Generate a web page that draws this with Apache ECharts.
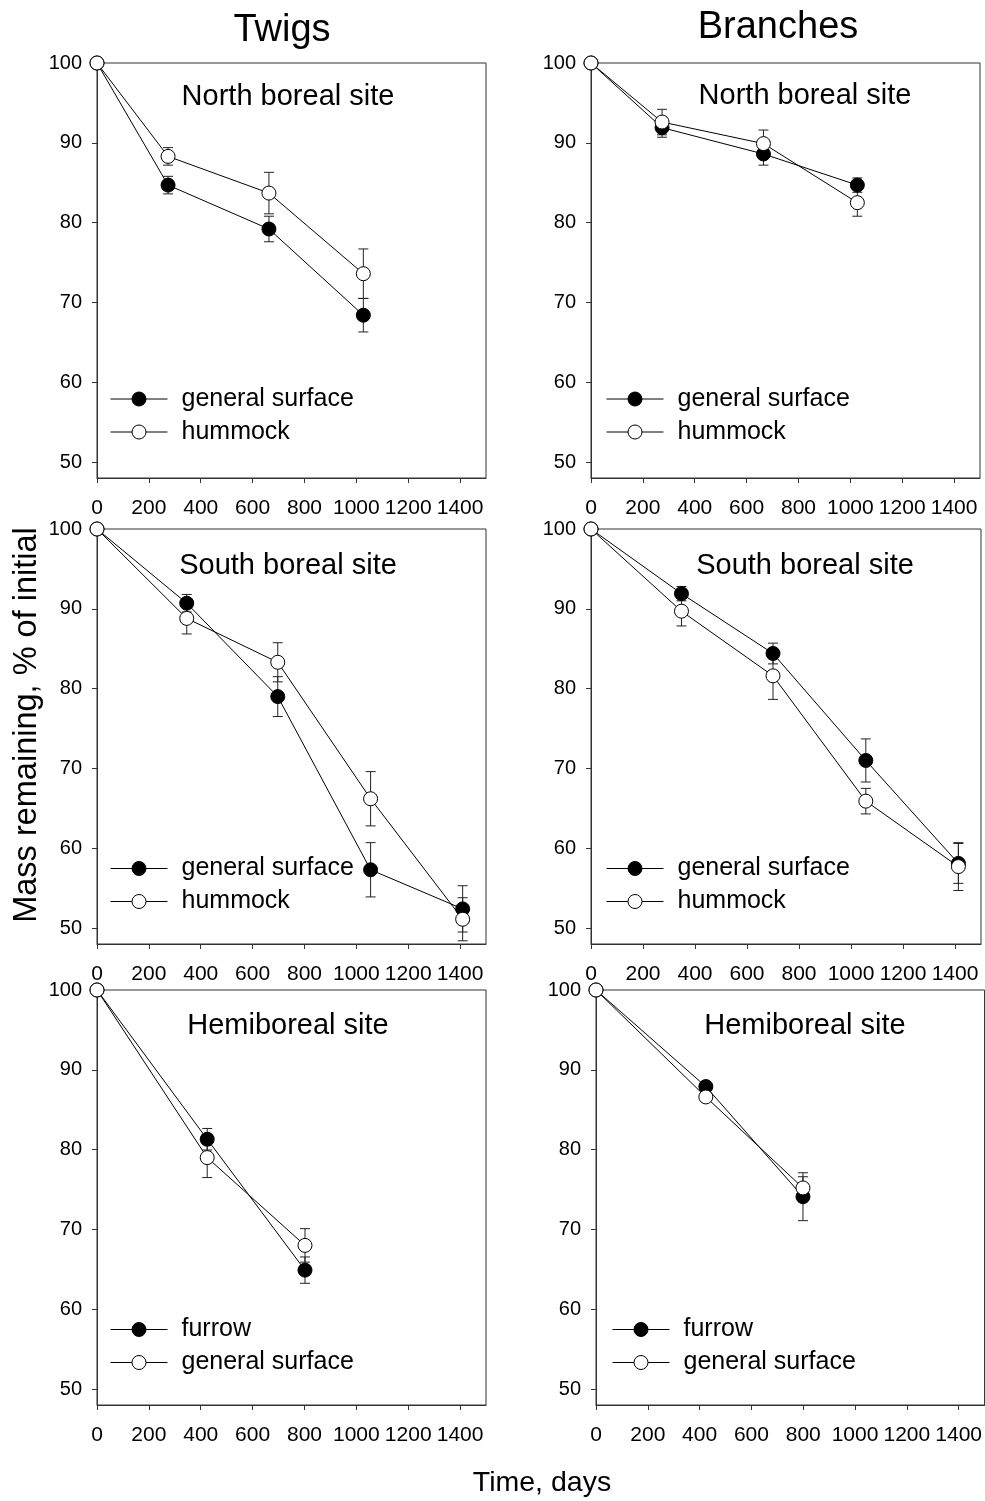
<!DOCTYPE html>
<html><head><meta charset="utf-8">
<script src="https://cdn.jsdelivr.net/npm/echarts@6/dist/echarts.min.js"></script>
<style>html,body{margin:0;padding:0;background:#fff}#c{width:985px;height:1501px}</style>
</head><body><div id="c"></div>
<script>
const FONT = '"Liberation Sans", Arial, Helvetica, sans-serif';

// ---- tick labels / texts ----
const xTicks = [0, 200, 400, 600, 800, 1000, 1200, 1400];
const yTicks = [50, 60, 70, 80, 90, 100];
const columnTitles = ['Twigs', 'Branches'];
const panelTitles = ['North boreal site', 'North boreal site', 'South boreal site', 'South boreal site', 'Hemiboreal site', 'Hemiboreal site'];
const yAxisName = 'Mass remaining, % of initial';
const xAxisName = 'Time, days';

// ---- data (mass remaining %, ± error) ----
// Twigs, North boreal
const daysTwigsNorth = [0, 274, 663, 1027];
const twigsNorthGeneral = [100, 84.7, 79.2, 68.4];
const twigsNorthGeneralErr = [0, 1.1, 1.6, 2.1];
const twigsNorthHummock = [100, 88.3, 83.7, 73.6];
const twigsNorthHummockErr = [0, 1.1, 2.6, 3.1];
// Branches, North boreal
const daysBranchesNorth = [0, 274, 665, 1027];
const branchesNorthGeneral = [100, 91.9, 88.6, 84.7];
const branchesNorthGeneralErr = [0, 1.2, 1.4, 0.9];
const branchesNorthHummock = [100, 92.6, 89.9, 82.5];
const branchesNorthHummockErr = [0, 1.6, 1.7, 1.7];
// Twigs, South boreal
const daysTwigsSouth = [0, 346, 697, 1055, 1410];
const twigsSouthGeneral = [100, 90.7, 79.0, 57.3, 52.4];
const twigsSouthGeneralErr = [0, 1.1, 2.5, 3.4, 2.9];
const twigsSouthHummock = [100, 88.8, 83.3, 66.2, 51.1];
const twigsSouthHummockErr = [0, 1.95, 2.45, 3.4, 2.7];
// Branches, South boreal
const daysBranchesSouth = [0, 348, 700, 1057, 1413];
const branchesSouthGeneral = [100, 91.9, 84.4, 71.0, 58.1];
const branchesSouthGeneralErr = [0, 0.9, 1.3, 2.7, 2.5];
const branchesSouthHummock = [100, 89.7, 81.6, 65.9, 57.7];
const branchesSouthHummockErr = [0, 1.85, 2.95, 1.6, 3.0];
// Twigs, Hemiboreal
const daysTwigsHemi = [0, 425, 802];
const twigsHemiFurrow = [100, 81.3, 64.9];
const twigsHemiFurrowErr = [0, 1.35, 1.65];
const twigsHemiGeneral = [100, 79.0, 68.0];
const twigsHemiGeneralErr = [0, 2.5, 2.1];
// Branches, Hemiboreal
const daysBranchesHemi = [0, 424, 799];
const branchesHemiFurrow = [100, 87.9, 74.1];
const branchesHemiFurrowErr = [0, 0.5, 3.0];
const branchesHemiGeneral = [100, 86.6, 75.2];
const branchesHemiGeneralErr = [0, 0.5, 1.4];

const panels = [
  { days: daysTwigsNorth, names: ['general surface', 'hummock'], means: [twigsNorthGeneral, twigsNorthHummock], errs: [twigsNorthGeneralErr, twigsNorthHummockErr] },
  { days: daysBranchesNorth, names: ['general surface', 'hummock'], means: [branchesNorthGeneral, branchesNorthHummock], errs: [branchesNorthGeneralErr, branchesNorthHummockErr] },
  { days: daysTwigsSouth, names: ['general surface', 'hummock'], means: [twigsSouthGeneral, twigsSouthHummock], errs: [twigsSouthGeneralErr, twigsSouthHummockErr] },
  { days: daysBranchesSouth, names: ['general surface', 'hummock'], means: [branchesSouthGeneral, branchesSouthHummock], errs: [branchesSouthGeneralErr, branchesSouthHummockErr] },
  { days: daysTwigsHemi, names: ['furrow', 'general surface'], means: [twigsHemiFurrow, twigsHemiGeneral], errs: [twigsHemiFurrowErr, twigsHemiGeneralErr] },
  { days: daysBranchesHemi, names: ['furrow', 'general surface'], means: [branchesHemiFurrow, branchesHemiGeneral], errs: [branchesHemiFurrowErr, branchesHemiGeneralErr] }
];

// ---- layout ----
const gridBoxes = [
  { left: 97, top: 63, width: 389, height: 415 },
  { left: 591, top: 63, width: 389, height: 415 },
  { left: 97, top: 529, width: 389, height: 415 },
  { left: 591, top: 529, width: 390, height: 415 },
  { left: 97, top: 990, width: 389, height: 415 },
  { left: 596, top: 990, width: 389, height: 415 }
];
const legendPos = [
  { left: 110, top: 386.5 }, { left: 606, top: 386.5 },
  { left: 110, top: 856 }, { left: 606, top: 856 },
  { left: 110, top: 1317 }, { left: 612, top: 1317 }
];
const panelTitlePos = [[288, 97], [805, 96], [288, 566], [805, 566], [288, 1026], [805, 1026]];

const AXIS_COLOR = '#333';
const FILLS = ['#000', '#fff'];

function renderErr(params, api) {
  const x = api.value(0), lo = api.value(1), hi = api.value(2);
  const a = api.coord([x, lo]), b = api.coord([x, hi]);
  const h = 5;
  const st = { stroke: '#222', lineWidth: 1, fill: null };
  return {
    type: 'group', children: [
      { type: 'line', shape: { x1: a[0], y1: a[1], x2: b[0], y2: b[1] }, style: st },
      { type: 'line', shape: { x1: a[0] - h, y1: a[1], x2: a[0] + h, y2: a[1] }, style: st },
      { type: 'line', shape: { x1: b[0] - h, y1: b[1], x2: b[0] + h, y2: b[1] }, style: st }
    ]
  };
}

const grid = [], xAxis = [], yAxis = [], series = [], legend = [], graphic = [];

panels.forEach((p, i) => {
  grid.push(Object.assign({ show: true, borderColor: AXIS_COLOR, borderWidth: 1, backgroundColor: 'transparent' }, gridBoxes[i]));
  xAxis.push({
    type: 'value', gridIndex: i, min: 0, max: 1500,
    axisLine: { show: true, onZero: false, lineStyle: { color: AXIS_COLOR, width: 1 } },
    axisTick: { show: true, inside: false, length: 5, customValues: xTicks, lineStyle: { color: AXIS_COLOR } },
    axisLabel: { customValues: xTicks, formatter: v => String(v), hideOverlap: false, showMaxLabel: true, margin: 20, fontSize: 21, fontFamily: FONT, color: '#000' },
    splitLine: { show: false }
  });
  yAxis.push({
    type: 'value', gridIndex: i, min: 48, max: 100,
    axisLine: { show: true, onZero: false, lineStyle: { color: AXIS_COLOR, width: 1 } },
    axisTick: { show: true, inside: false, length: 5, customValues: yTicks, lineStyle: { color: AXIS_COLOR } },
    axisLabel: { customValues: yTicks, formatter: v => String(v), margin: 15, fontSize: 20, fontFamily: FONT, color: '#000' },
    splitLine: { show: false }
  });
  // error bars first
  [0, 1].forEach(k => {
    const d = [];
    p.days.forEach((day, j) => {
      if (p.errs[k][j] > 0) d.push([day, p.means[k][j] - p.errs[k][j], p.means[k][j] + p.errs[k][j]]);
    });
    series.push({
      type: 'custom', xAxisIndex: i, yAxisIndex: i, renderItem: renderErr,
      data: d, encode: { x: 0, y: [1, 2] }, clip: false, z: 1, silent: true
    });
  });
  [0, 1].forEach(k => {
    series.push({
      type: 'line', name: p.names[k], xAxisIndex: i, yAxisIndex: i,
      data: p.days.map((day, j) => [day, p.means[k][j]]),
      symbol: 'circle', symbolSize: 14, showSymbol: true, clip: false, z: 2 + k,
      lineStyle: { color: '#000', width: 1 },
      itemStyle: { color: FILLS[k], borderColor: '#000', borderWidth: 1 },
      emphasis: { disabled: true }, silent: true
    });
  });
  legend.push({
    left: legendPos[i].left, top: legendPos[i].top, orient: 'vertical', padding: 0,
    itemWidth: 57, itemHeight: 17.5, itemGap: 8, selectedMode: false,
    data: p.names.map((n, k) => ({
      name: n,
      itemStyle: { color: FILLS[k], borderColor: '#000', borderWidth: 1 },
      lineStyle: { color: '#000', width: 1 }
    })),
    textStyle: { fontSize: 25, fontFamily: FONT, color: '#000', padding: [0, 0, 0, 9] }
  });
  graphic.push({
    type: 'text', x: panelTitlePos[i][0], y: panelTitlePos[i][1],
    style: { text: panelTitles[i], fontSize: 29, fontFamily: FONT, fill: '#000', align: 'center', verticalAlign: 'middle' }
  });
});

graphic.push(
  { type: 'text', x: 282, y: 31, style: { text: columnTitles[0], fontSize: 38, fontFamily: FONT, fill: '#000', align: 'center', verticalAlign: 'middle' } },
  { type: 'text', x: 778, y: 28, style: { text: columnTitles[1], fontSize: 38, fontFamily: FONT, fill: '#000', align: 'center', verticalAlign: 'middle' } },
  { type: 'text', x: 27, y: 725, rotation: Math.PI / 2, style: { text: yAxisName, fontSize: 32.5, fontFamily: FONT, fill: '#000', align: 'center', verticalAlign: 'middle' } },
  { type: 'text', x: 542, y: 1483, style: { text: xAxisName, fontSize: 28.5, fontFamily: FONT, fill: '#000', align: 'center', verticalAlign: 'middle' } }
);

const chart = echarts.init(document.getElementById('c'), null, { renderer: 'canvas' });
chart.setOption({
  animation: false,
  backgroundColor: '#fff',
  grid, xAxis, yAxis, series, legend, graphic,
  tooltip: { show: false }
});
</script>
</body></html>
